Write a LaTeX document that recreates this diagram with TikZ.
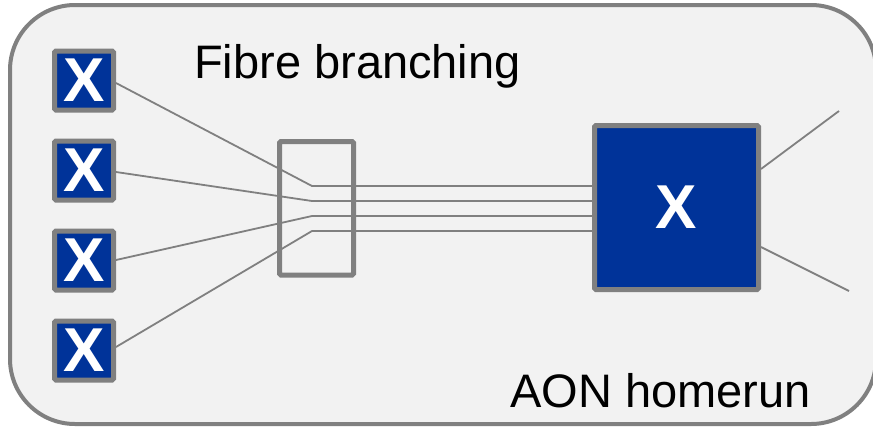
\documentclass[tikz,border=0pt]{standalone}
\usepackage{fontspec}
\setmainfont{Liberation Sans}
\definecolor{boxblue}{HTML}{003399}
\definecolor{edgegray}{HTML}{808080}
\definecolor{panel}{HTML}{F2F2F2}
\tikzset{
  xbox/.style={draw=edgegray, fill=boxblue, line width=5pt, rounded corners=1.5pt,
    minimum size=59pt, inner sep=0pt, text=white,
    font=\fontsize{62}{62}\selectfont\bfseries},
  bigbox/.style={xbox, minimum size=164pt},
  fibre/.style={draw=edgegray, line width=1.8pt},
  splitbox/.style={draw=edgegray, line width=5pt, rounded corners=1.5pt,
    minimum width=74pt, minimum height=133.5pt, inner sep=0pt},
  label/.style={font=\fontsize{47}{47}\selectfont, text=black, inner sep=0pt, anchor=base west}
}
\newcommand{\xmark}{\raisebox{-2pt}{X}}
\begin{document}
\begin{tikzpicture}[x=1pt,y=-1pt]
\useasboundingbox (0,0) rectangle (873,429);
\clip (0,0) rectangle (873,429);
\draw[draw=edgegray, fill=panel, line width=4pt, rounded corners=65pt] (10,5) rectangle (876,424);

\node[label] (t1) at (194,78) {Fibre branching};
\node[label] (t2) at (510,407) {AON homerun};

\node[xbox] (s1) at (84,80.5) {\xmark};
\node[xbox] (s2) at (84,170.5) {\xmark};
\node[xbox] (s3) at (84,260.5) {\xmark};
\node[xbox] (s4) at (84,350.5) {\xmark};
\node[bigbox] (big) at (676.5,207.5) {\xmark};

\coordinate (k1) at (312,186);
\coordinate (k2) at (312,201);
\coordinate (k3) at (312,216);
\coordinate (k4) at (312,231);
\coordinate (o1) at (839,111);
\coordinate (o2) at (849,291);

\draw[fibre] ([yshift=-2.5pt]s1.east) -- (k1) -- (k1 -| big.west);
\draw[fibre] ([yshift=-1.5pt]s2.east) -- (k2) -- (k2 -| big.west);
\draw[fibre] ([yshift=0.5pt]s3.east) -- (k3) -- (k3 -| big.west);
\draw[fibre] ([yshift=3.5pt]s4.east) -- (k4) -- (k4 -| big.west);
\draw[fibre] ([yshift=38.5pt]big.east) -- (o1);
\draw[fibre] ([yshift=-39.5pt]big.east) -- (o2);

\node[splitbox] (split) at (316.5,208.25) {};
\end{tikzpicture}
\end{document}
